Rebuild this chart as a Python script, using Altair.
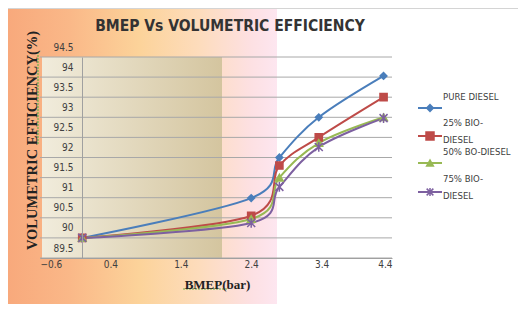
import altair as alt
import pandas as pd

# ---- data ----
bmep = [0, 2.4, 2.8, 3.36, 4.28]
pure_diesel = [90.0, 90.99, 92.0, 93.0, 94.03]
bio25 = [90.0, 90.55, 91.8, 92.5, 93.5]
bio50 = [90.0, 90.47, 91.5, 92.36, 93.0]
bio75 = [90.0, 90.37, 91.27, 92.26, 92.98]
series_names = ["PURE DIESEL", "25% BIO-DIESEL", "50% BO-DIESEL", "75% BIO-DIESEL"]
legend_labels = ["PURE DIESEL", "25% BIO-\nDIESEL", "50% BO-DIESEL", "75% BIO-\nDIESEL"]
x_ticks = [-0.6, 0.4, 1.4, 2.4, 3.4, 4.4]
y_ticks = [89.5, 90, 90.5, 91, 91.5, 92, 92.5, 93, 93.5, 94, 94.5]

# ---- styles ----
colors = ["#4A7EBB", "#BE4B48", "#98B954", "#7D60A0"]
shapes = ["diamond", "square", "triangle-up", "M-1,-1L1,1M-1,1L1,-1M0,-1.2L0,1.2"]
sizes = [45, 64, 45, 45]
W, H = 352, 201
narrow = "Liberation Sans Narrow, DejaVu Sans Condensed, Arial Narrow, sans-serif"
serif = "Liberation Serif, Times New Roman, serif"
fmt = "replace(format(datum.value, '.1f'), '.0', '')"

rows = []
for name, vals in zip(series_names, [pure_diesel, bio25, bio50, bio75]):
    for xv, yv in zip(bmep, vals):
        rows.append({"series": name, "bmep": xv, "ve": yv})
df = pd.DataFrame(rows)

xs = alt.Scale(domain=[x_ticks[0], x_ticks[-1]], nice=False, zero=False)
ys = alt.Scale(domain=[y_ticks[0], y_ticks[-1]], nice=False, zero=False)
cs = alt.Scale(domain=series_names, range=colors)
ss = alt.Scale(domain=series_names, range=shapes)
szs = alt.Scale(domain=series_names, range=sizes)

x_axis = alt.Axis(values=x_ticks, labelExpr=fmt, grid=False, ticks=False,
                  domainColor="#a0a0a0", labelFont=narrow, labelFontSize=10,
                  labelColor="#404040", labelPadding=1,
                  title="BMEP(bar)", titleFont=serif, titleFontSize=13,
                  titleFontWeight="bold", titleColor="#222222",
                  titleX=177, titleY=30, titleAlign="center",
                  titleBaseline="alphabetic", zindex=1)
y_axis = alt.Axis(values=y_ticks, labelExpr=fmt, grid=False, ticks=False,
                  offset=-42, domainColor="#a0a0a0", labelFont=narrow,
                  labelFontSize=10, labelColor="#404040", labelPadding=9,
                  labelOffset=-10,
                  title="VOLUMETRIC EFFICIENCY(%)", titleFont=serif,
                  titleFontSize=14.5, titleFontWeight="bold", titleColor="#222222",
                  titleX=-50, titleY=83, titleAlign="center",
                  titleBaseline="middle", titleAngle=-90, zindex=1)

one = pd.DataFrame({"k": [0]})

outer_bg = alt.Chart(one).mark_rect(
    color=alt.Gradient(
        gradient="linear", x1=0, x2=1, y1=0, y2=0,
        stops=[
            alt.GradientStop(color="#f8a97c", offset=0),
            alt.GradientStop(color="#fab888", offset=0.23),
            alt.GradientStop(color="#fcd39a", offset=0.49),
            alt.GradientStop(color="#fddcbc", offset=0.71),
            alt.GradientStop(color="#fde0e2", offset=0.9),
            alt.GradientStop(color="#fde6f0", offset=1),
        ],
    )
).encode(x=alt.value(-32), x2=alt.value(237), y=alt.value(-49), y2=alt.value(247))

border = alt.Chart(one).mark_rule(color="#d4d4d4", strokeWidth=1).encode(
    x=alt.value(-32), x2=alt.value(W + 126), y=alt.value(-48.5)
)

plot_bg = alt.Chart(one).mark_rect(
    color=alt.Gradient(
        gradient="linear", x1=0, x2=1, y1=0, y2=0,
        stops=[
            alt.GradientStop(color="#f1ecdc", offset=0),
            alt.GradientStop(color="#d4c59f", offset=1),
        ],
    )
).encode(x=alt.value(2), x2=alt.value(182), y=alt.value(0), y2=alt.value(H))

grid = alt.Chart(pd.DataFrame({"v": y_ticks})).mark_rule(color="#a8a8a8", strokeWidth=1).encode(
    y=alt.Y("v:Q", scale=ys, axis=y_axis), x=alt.value(0), x2=alt.value(W)
)

lines = alt.Chart(df).mark_line(interpolate="cardinal", tension=0, strokeWidth=2).encode(
    x=alt.X("bmep:Q", scale=xs, axis=x_axis),
    y=alt.Y("ve:Q", scale=ys, axis=y_axis),
    color=alt.Color("series:N", scale=cs, legend=None),
    detail="series:N",
)

points = alt.Chart(df).mark_point(strokeWidth=1.5, opacity=1).encode(
    x=alt.X("bmep:Q", scale=xs, axis=x_axis),
    y=alt.Y("ve:Q", scale=ys, axis=y_axis),
    color=alt.Color("series:N", scale=cs, legend=None),
    fill=alt.Fill("series:N", scale=cs, legend=None),
    shape=alt.Shape("series:N", scale=ss, legend=None),
    size=alt.Size("series:N", scale=szs, legend=None),
)

title = alt.Chart(one).mark_text(
    text="BMEP Vs VOLUMETRIC  EFFICIENCY", font=narrow, fontSize=15.5,
    fontWeight="bold", color="#333333", align="center", baseline="alphabetic"
).encode(x=alt.value(190), y=alt.value(-26))

# spell-check squiggles seen under the axis titles
squig_y = alt.Chart(one).mark_rule(color="#6fb04a", strokeWidth=1.2, strokeDash=[2, 1]).encode(
    x=alt.value(-2), y=alt.value(-5), y2=alt.value(88)
)
squig_x = alt.Chart(one).mark_rule(color="#6fb04a", strokeWidth=1.2, strokeDash=[2, 1]).encode(
    x=alt.value(143), x2=alt.value(187), y=alt.value(232)
)

# legend
marker_y = [51, 79, 106, 135]
text_y = [43, 69, 98, 125]
legend_layers = []
for i in range(4):
    legend_layers.append(alt.Chart(one).mark_rule(color=colors[i], strokeWidth=2).encode(
        x=alt.value(378), x2=alt.value(402), y=alt.value(marker_y[i])))
    legend_layers.append(alt.Chart(one).mark_point(
        shape=shapes[i], size=sizes[i], color=colors[i], fill=colors[i],
        strokeWidth=1.5, opacity=1).encode(x=alt.value(390), y=alt.value(marker_y[i])))
    legend_layers.append(alt.Chart(one).mark_text(
        text=legend_labels[i], font=narrow, fontSize=9.5, color="#404040",
        align="left", baseline="alphabetic", lineBreak="\n", lineHeight=16.5
    ).encode(x=alt.value(403), y=alt.value(text_y[i])))

chart = alt.layer(
    outer_bg, border, plot_bg, grid, lines, points, title, squig_y, squig_x, *legend_layers
).properties(
    width=W, height=H,
    autosize=alt.AutoSizeParams(type="none"),
    padding={"left": 32, "top": 49, "right": 126, "bottom": 46},
    background="white",
).configure_view(stroke=None)

chart.save("out.html", embed_options={"renderer": "svg", "actions": False})
